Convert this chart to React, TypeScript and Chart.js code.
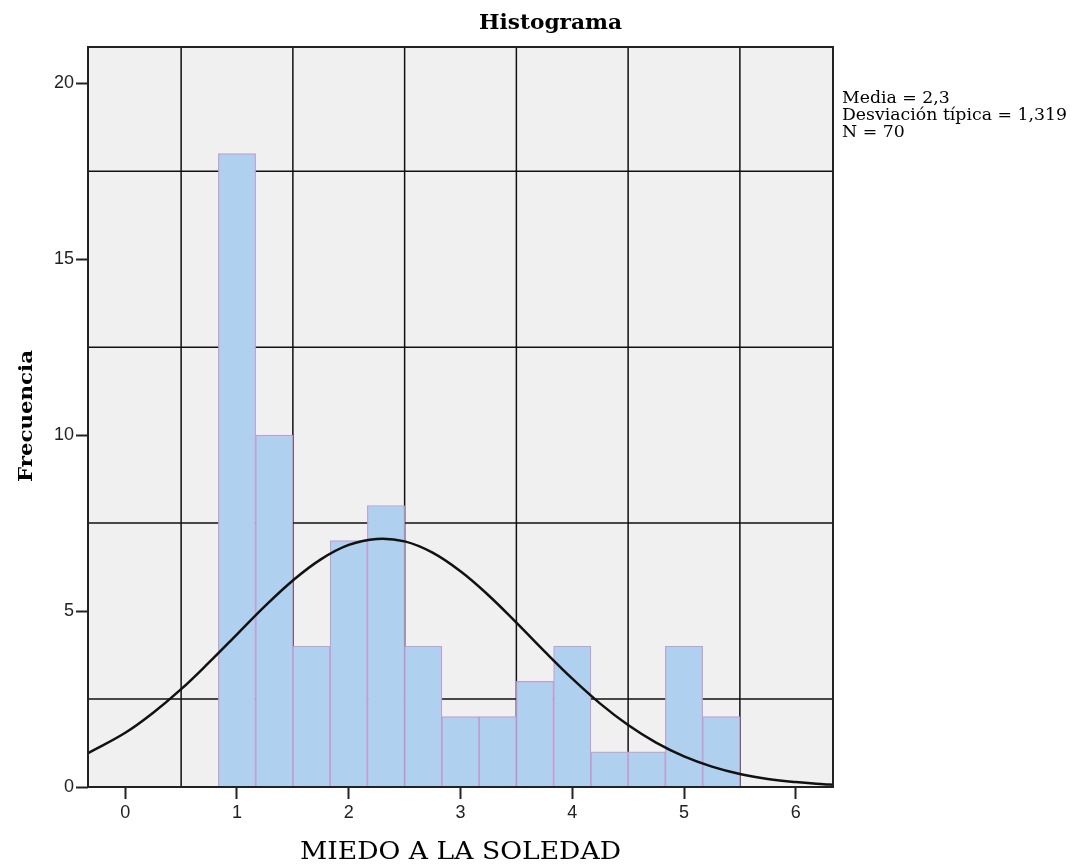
import React, { useEffect, useRef } from "react";
import { Chart, registerables } from "chart.js";

Chart.register(...registerables);

// ---- Data ----
const binCenters = [1.0, 1.3333, 1.6667, 2.0, 2.3333, 2.6667, 3.0, 3.3333, 3.6667, 4.0, 4.3333, 4.6667, 5.0, 5.3333];
const binCounts = [18, 10, 4, 7, 8, 4, 2, 2, 3, 4, 1, 1, 4, 2];

const curveX = [-0.333, 0, 0.25, 0.5, 0.75, 1.0, 1.25, 1.5, 1.75, 2.0, 2.25, 2.5, 2.75, 3.0, 3.25, 3.5, 3.75, 4.0, 4.25, 4.5, 4.75, 5.0, 5.25, 5.5, 5.75, 6.0, 6.25, 6.333];
const curveY = [0.96, 1.54, 2.11, 2.78, 3.54, 4.34, 5.14, 5.87, 6.47, 6.88, 7.05, 6.98, 6.66, 6.13, 5.45, 4.67, 3.86, 3.08, 2.37, 1.76, 1.26, 0.87, 0.58, 0.37, 0.23, 0.14, 0.08, 0.066];

const xTicks = [0, 1, 2, 3, 4, 5, 6];
const yTicks = [0, 5, 10, 15, 20];
const xGridValues = [0.5, 1.5, 2.5, 3.5, 4.5, 5.5];
const yGridValues = [2.5, 7.5, 12.5, 17.5];

const chartTitle = "Histograma";
const xTitle = "MIEDO A LA SOLEDAD";
const yTitle = "Frecuencia";
const statsLines = ["Media = 2,3", "Desviación típica = 1,319", "N = 70"];

// ---- Styles ----
const W = 1074;
const H = 867;
const SERIF = '"DejaVu Serif", "Liberation Serif", serif';

function drawFitted(
  ctx: CanvasRenderingContext2D,
  text: string,
  x: number,
  y: number,
  font: string,
  sx: number,
  align: CanvasTextAlign
) {
  ctx.save();
  ctx.font = font;
  ctx.fillStyle = "#000";
  ctx.textAlign = align;
  ctx.textBaseline = "alphabetic";
  ctx.translate(x, y);
  ctx.scale(sx, 1);
  ctx.fillText(text, 0, 0);
  ctx.restore();
}

function scaleFor(ctx: CanvasRenderingContext2D, text: string, font: string, width: number) {
  ctx.save();
  ctx.font = font;
  const w = ctx.measureText(text).width;
  ctx.restore();
  return w > 0 ? width / w : 1;
}

const decorPlugin = {
  id: "spssDecor",
  beforeDatasetsDraw(chart: any) {
    const { ctx, chartArea: a, scales } = chart;
    ctx.save();
    ctx.fillStyle = "#F0F0F0";
    ctx.fillRect(a.left, a.top, a.right - a.left, a.bottom - a.top);
    ctx.strokeStyle = "#111";
    ctx.lineWidth = 1.5;
    ctx.beginPath();
    xGridValues.forEach((v) => {
      const px = scales.x.getPixelForValue(v);
      ctx.moveTo(px, a.top);
      ctx.lineTo(px, a.bottom);
    });
    yGridValues.forEach((v) => {
      const py = scales.y.getPixelForValue(v);
      ctx.moveTo(a.left, py);
      ctx.lineTo(a.right, py);
    });
    ctx.stroke();
    ctx.restore();
  },
  afterDraw(chart: any) {
    const { ctx, chartArea: a } = chart;
    ctx.save();
    ctx.strokeStyle = "#222";
    ctx.lineWidth = 2;
    ctx.strokeRect(a.left, a.top, a.right - a.left, a.bottom - a.top);
    ctx.restore();

    // Title
    const tFont = `bold 20px ${SERIF}`;
    drawFitted(ctx, chartTitle, 550.5, 29, tFont, scaleFor(ctx, chartTitle, tFont, 143), "center");

    // X axis title
    const xFont = `24px ${SERIF}`;
    drawFitted(ctx, xTitle, (a.left + a.right) / 2, 859, xFont, scaleFor(ctx, xTitle, xFont, 321), "center");

    // Y axis title (rotated)
    const yFont = `bold 19px ${SERIF}`;
    const ys = scaleFor(ctx, yTitle, yFont, 132);
    ctx.save();
    ctx.translate(32, 416);
    ctx.rotate(-Math.PI / 2);
    drawFitted(ctx, yTitle, 0, 0, yFont, ys, "center");
    ctx.restore();

    // Stats text
    const sFont = `17px ${SERIF}`;
    const ss = scaleFor(ctx, statsLines[1], sFont, 225);
    statsLines.forEach((line, i) => {
      drawFitted(ctx, line, 842, 103 + i * 17, sFont, ss, "left");
    });
  },
};

export default function App() {
  const canvasRef = useRef<HTMLCanvasElement | null>(null);

  useEffect(() => {
    if (!canvasRef.current) return;
    const chart = new Chart(canvasRef.current, {
      type: "bar",
      data: {
        datasets: [
          {
            type: "line",
            data: curveX.map((x, i) => ({ x, y: curveY[i] })),
            borderColor: "#111",
            borderWidth: 2.5,
            pointRadius: 0,
            tension: 0.4,
            fill: false,
            order: 0,
          } as any,
          {
            type: "bar",
            data: binCenters.map((x, i) => ({ x, y: binCounts[i] })),
            backgroundColor: "#AFD0EE",
            borderColor: "#C29CD4",
            borderWidth: 1.2,
            barPercentage: 1,
            categoryPercentage: 1,
            order: 1,
          } as any,
        ],
      },
      options: {
        responsive: false,
        animation: false,
        layout: { padding: { left: 0, top: 47, right: 241, bottom: 0 } },
        plugins: {
          legend: { display: false },
          tooltip: { enabled: false },
          title: { display: false },
        },
        scales: {
          x: {
            type: "linear",
            min: -0.3333,
            max: 6.3333,
            offset: false,
            afterFit: (s: any) => {
              s.height = 80;
            },
            afterBuildTicks: (s: any) => {
              s.ticks = xTicks.map((v) => ({ value: v }));
            },
            ticks: {
              autoSkip: false,
              maxRotation: 0,
              padding: 3,
              color: "#222",
              font: { family: '"Liberation Sans", Arial, sans-serif', size: 18 },
              callback: (v: any) => String(v),
            },
            grid: {
              display: true,
              drawOnChartArea: false,
              drawTicks: true,
              tickLength: 12,
              tickColor: "#222",
              tickWidth: 2,
              offset: false,
            },
            border: { display: false },
          },
          y: {
            type: "linear",
            min: 0,
            max: 21.03,
            afterFit: (s: any) => {
              s.width = 88;
            },
            afterBuildTicks: (s: any) => {
              s.ticks = yTicks.map((v) => ({ value: v }));
            },
            ticks: {
              autoSkip: false,
              padding: 2,
              color: "#222",
              font: { family: '"Liberation Sans", Arial, sans-serif', size: 18 },
              callback: (v: any) => String(v),
            },
            grid: {
              display: true,
              drawOnChartArea: false,
              drawTicks: true,
              tickLength: 12,
              tickColor: "#222",
              tickWidth: 2,
            },
            border: { display: false },
          },
        },
      } as any,
      plugins: [decorPlugin],
    });
    return () => chart.destroy();
  }, []);

  return (
    <div style={{ position: "absolute", left: 0, top: 0, width: W, height: H, background: "#fff" }}>
      <canvas ref={canvasRef} width={W} height={H} style={{ width: W, height: H, display: "block" }} />
    </div>
  );
}
